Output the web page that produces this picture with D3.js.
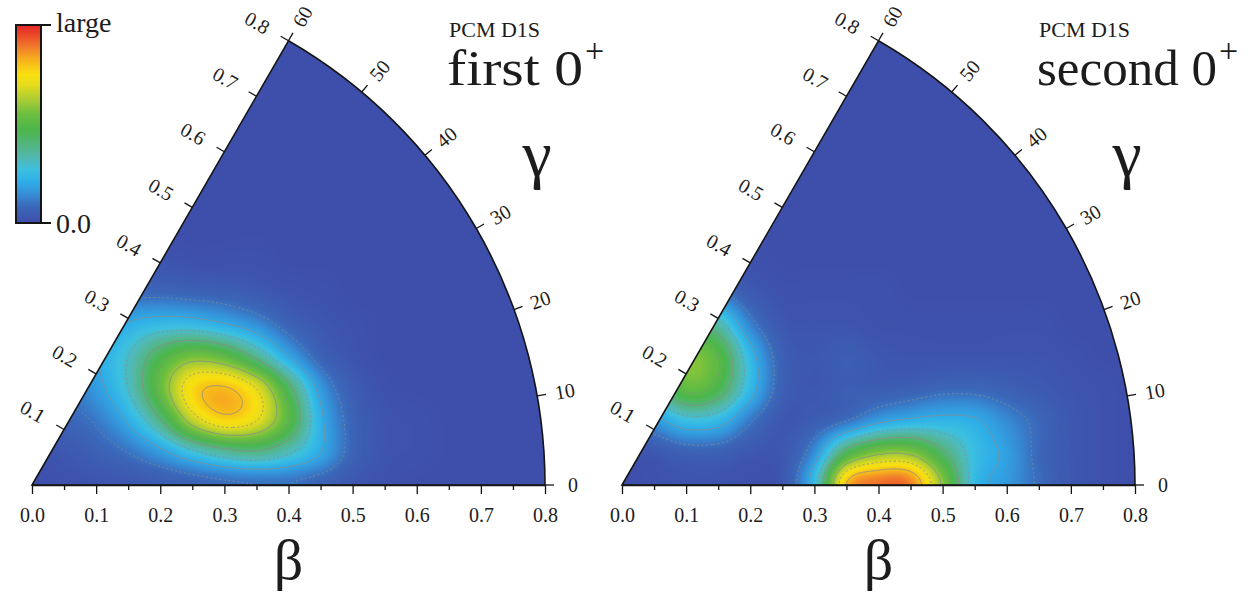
<!DOCTYPE html>
<html>
<head>
<meta charset="utf-8">
<script src="https://cdn.jsdelivr.net/npm/d3@7"></script>
<style>
  html, body { margin: 0; padding: 0; background: #ffffff; }
  svg { display: block; }
  svg text { font-family: "Liberation Serif", "DejaVu Serif", serif !important; fill: #1c1c1c; }
</style>
</head>
<body>
<svg id="chart" width="1253" height="594"></svg>
<script>
// ---- Data -------------------------------------------------------------
// Sampling nodes of the (x, y) = (beta cos gamma, beta sin gamma) plane.
const gridX = [0, 0.05, 0.10, 0.15, 0.20, 0.25, 0.30, 0.35, 0.40, 0.45, 0.50, 0.55, 0.60, 0.65, 0.70, 0.75, 0.80];
const gridY = [0, 0.05, 0.10, 0.15, 0.20, 0.25, 0.30, 0.35, 0.40];

// Collective wave-function density (fraction of the colour-scale maximum),
// one row per gridY value, one column per gridX value.
const densityFirst = [
  [0.00, 0.01, 0.02, 0.03, 0.05, 0.07, 0.09, 0.10, 0.10, 0.07, 0.03, 0.01, 0, 0, 0, 0, 0],
  [0.01, 0.03, 0.06, 0.10, 0.17, 0.27, 0.35, 0.38, 0.31, 0.20, 0.07, 0.02, 0.01, 0, 0, 0, 0],
  [0.04, 0.07, 0.11, 0.21, 0.39, 0.64, 0.76, 0.70, 0.50, 0.22, 0.07, 0.02, 0.01, 0, 0, 0, 0],
  [0.06, 0.10, 0.17, 0.30, 0.53, 0.76, 0.81, 0.70, 0.44, 0.17, 0.05, 0.01, 0, 0, 0, 0, 0],
  [0.06, 0.11, 0.19, 0.30, 0.46, 0.56, 0.52, 0.38, 0.20, 0.07, 0.02, 0, 0, 0, 0, 0, 0],
  [0.05, 0.09, 0.15, 0.21, 0.25, 0.25, 0.21, 0.15, 0.07, 0.03, 0.01, 0, 0, 0, 0, 0, 0],
  [0.02, 0.04, 0.06, 0.08, 0.08, 0.07, 0.06, 0.04, 0.02, 0.01, 0, 0, 0, 0, 0, 0, 0],
  [0.01, 0.01, 0.02, 0.02, 0.02, 0.01, 0.01, 0.01, 0, 0, 0, 0, 0, 0, 0, 0, 0],
  [0, 0, 0, 0, 0, 0, 0, 0, 0, 0, 0, 0, 0, 0, 0, 0, 0]
];

const densitySecond = [
  [0, 0.01, 0.02, 0.02, 0.01, 0.03, 0.26, 0.80, 0.90, 0.88, 0.58, 0.25, 0.17, 0.09, 0.03, 0.01, 0],
  [0.01, 0.03, 0.06, 0.06, 0.03, 0.03, 0.15, 0.45, 0.58, 0.58, 0.42, 0.26, 0.18, 0.08, 0.03, 0.01, 0],
  [0.07, 0.16, 0.26, 0.24, 0.11, 0.03, 0.05, 0.10, 0.18, 0.22, 0.23, 0.21, 0.14, 0.08, 0.03, 0.01, 0],
  [0.10, 0.32, 0.52, 0.46, 0.24, 0.06, 0.03, 0.05, 0.05, 0.06, 0.08, 0.08, 0.06, 0.04, 0.02, 0.01, 0],
  [0.10, 0.35, 0.56, 0.50, 0.24, 0.06, 0.03, 0.05, 0.03, 0.02, 0.02, 0.02, 0.02, 0.02, 0.01, 0, 0],
  [0.07, 0.24, 0.40, 0.34, 0.13, 0.03, 0.02, 0.02, 0.01, 0.01, 0.01, 0.01, 0.01, 0.01, 0, 0, 0],
  [0.03, 0.08, 0.13, 0.11, 0.04, 0.01, 0.01, 0.01, 0.01, 0, 0, 0, 0, 0, 0, 0, 0],
  [0.01, 0.02, 0.03, 0.02, 0.01, 0, 0, 0, 0, 0, 0, 0, 0, 0, 0, 0, 0],
  [0, 0, 0, 0, 0, 0, 0, 0, 0, 0, 0, 0, 0, 0, 0, 0, 0]
];

// Colour scale (0 -> "large")
const colorStops = [0, 0.08, 0.15, 0.21, 0.27, 0.33, 0.40, 0.47, 0.55, 0.62, 0.70, 0.75, 0.82, 0.88, 0.94, 1.00];
const colorHex = ["#3e4fab", "#3b66b8", "#3590d8", "#2eaee8", "#3cc0e0", "#52b8b0", "#52b57c", "#4cb64a",
                  "#6cbe40", "#a8cc34", "#e8dc1c", "#f8e010", "#f7b41c", "#f2822a", "#ec5028", "#e3232a"];
const contourLevels = [0.1, 0.2, 0.3, 0.4, 0.5, 0.6, 0.7, 0.8];

// Axis ticks
const betaTicks = [0, 0.1, 0.2, 0.3, 0.4, 0.5, 0.6, 0.7, 0.8];
const betaMinorTicks = [0.05, 0.15, 0.25, 0.35, 0.45, 0.55, 0.65, 0.75];
const edgeTicks = [0.1, 0.2, 0.3, 0.4, 0.5, 0.6, 0.7, 0.8];
const gammaTicks = [0, 10, 20, 30, 40, 50, 60];

const panels = [
  { ox: 32,  oy: 485, grid: densityFirst,  name: "first 0",  nameWidth: 136, colorbar: true },
  { ox: 622, oy: 485, grid: densitySecond, name: "second 0", nameWidth: 180, colorbar: false }
];

// ---- Setup ------------------------------------------------------------
const FONT = "Liberation Serif";
const R = 513;                          // pixel radius of beta = 0.8
const svg = d3.select("#chart");
const defs = svg.append("defs");
const rScale = d3.scaleLinear().domain([0, 0.8]).range([0, R]);
const gammaRad = d3.scaleLinear().domain([0, 60]).range([0, Math.PI / 3]);
const color = d3.scaleLinear().domain(colorStops).range(colorHex)
  .interpolate(d3.interpolateRgb).clamp(true);

// colour lookup table
const LUT = d3.range(1024).map(i => d3.rgb(color(i / 1023)));

const stepX = gridX[1] - gridX[0];
const stepY = gridY[1] - gridY[0];

// Catmull-Rom interpolation between grid nodes (mirror symmetric at the edges)
function cr(p0, p1, p2, p3, t) {
  return p1 + 0.5 * t * (p2 - p0 + t * (2 * p0 - 5 * p1 + 4 * p2 - p3 + t * (3 * (p1 - p2) + p3 - p0)));
}
function node(grid, r, c) {
  if (r < 0) r = -r;
  if (c < 0) c = -c;
  if (r >= gridY.length || c >= gridX.length) return 0;
  return grid[r][c];
}
function sampleAt(grid, x, y) {
  const fx = x / stepX, fy = Math.abs(y) / stepY;
  const i = Math.floor(fx), j = Math.floor(fy);
  const tx = fx - i, ty = fy - j;
  const rows = [];
  for (let m = -1; m <= 2; m++) {
    rows.push(cr(node(grid, j + m, i - 1), node(grid, j + m, i), node(grid, j + m, i + 1), node(grid, j + m, i + 2), tx));
  }
  const v = cr(rows[0], rows[1], rows[2], rows[3], ty);
  return Math.max(0, Math.min(1, v));
}

const wedgeArc = d3.arc().innerRadius(0).outerRadius(R)
  .startAngle(Math.PI / 6).endAngle(Math.PI / 2);

function label(sel) {
  return sel.attr("font-family", FONT).attr("fill", "#1c1c1c");
}

panels.forEach((p, idx) => {
  const g = svg.append("g").attr("class", "panel");
  const clipId = "wedge" + idx;
  defs.append("clipPath").attr("id", clipId)
    .append("path").attr("d", wedgeArc()).attr("transform", `translate(${p.ox},${p.oy})`);

  // ---- density field sampled on the pixel grid ----
  const left = p.ox - 2, top = Math.floor(p.oy - R * Math.sin(Math.PI / 3)) - 3;
  const w = R + 5, h = p.oy - top + 3;
  const values = new Float64Array(w * h);
  const canvas = document.createElement("canvas");
  canvas.width = w; canvas.height = h;
  const ctx = canvas.getContext("2d");
  const img = ctx.createImageData(w, h);
  for (let j = 0; j < h; j++) {
    const y = rScale.invert(p.oy - (top + j + 0.5));
    for (let i = 0; i < w; i++) {
      const x = rScale.invert(left + i + 0.5 - p.ox);
      const v = x < 0 ? 0 : sampleAt(p.grid, x, y);
      values[j * w + i] = v;
      const c = LUT[Math.round(v * 1023)];
      const k = 4 * (j * w + i);
      img.data[k] = c.r; img.data[k + 1] = c.g; img.data[k + 2] = c.b; img.data[k + 3] = 255;
    }
  }
  ctx.putImageData(img, 0, 0);

  const plot = g.append("g").attr("clip-path", `url(#${clipId})`);
  plot.append("image")
    .attr("x", left).attr("y", top).attr("width", w).attr("height", h)
    .attr("preserveAspectRatio", "none")
    .attr("href", canvas.toDataURL());

  // ---- contour lines ----
  const contours = d3.contours().size([w, h]).thresholds(contourLevels)(Array.from(values));
  plot.append("g").attr("transform", `translate(${left},${top})`)
    .selectAll("path").data(contours).join("path")
    .attr("d", d3.geoPath())
    .attr("fill", "none")
    .attr("stroke", "#8c8c8c")
    .attr("stroke-opacity", 0.85)
    .attr("stroke-width", 1)
    .attr("stroke-dasharray", (d, k) => (k % 2 === 0 ? "2,2.5" : null));

  // ---- wedge outline ----
  g.append("path").attr("d", wedgeArc()).attr("transform", `translate(${p.ox},${p.oy})`)
    .attr("fill", "none").attr("stroke", "#151515").attr("stroke-width", 1.6)
    .attr("stroke-linejoin", "miter");

  // ---- beta axis (bottom) ----
  const xAxis = d3.scaleLinear().domain([0, 0.8]).range([p.ox, p.ox + R]);
  const ax = g.append("g").attr("transform", `translate(0,${p.oy})`)
    .call(d3.axisBottom(xAxis).tickValues(betaTicks).tickFormat(d3.format(".1f"))
      .tickSize(9).tickPadding(14).tickSizeOuter(0));
  ax.attr("font-family", FONT);
  ax.select(".domain").attr("stroke", "#151515").attr("stroke-width", 1.6);
  ax.selectAll(".tick line").attr("stroke", "#151515").attr("stroke-width", 1.3);
  label(ax.selectAll(".tick text")).attr("font-size", 20);
  const axm = g.append("g").attr("transform", `translate(0,${p.oy})`)
    .call(d3.axisBottom(xAxis).tickValues(betaMinorTicks).tickFormat("").tickSize(5).tickSizeOuter(0));
  axm.select(".domain").remove();
  axm.selectAll(".tick line").attr("stroke", "#151515").attr("stroke-width", 1.3);

  label(g.append("text")).attr("x", p.ox + rScale(0.4)).attr("y", 579)
    .attr("text-anchor", "middle").attr("font-size", 58).text("β");

  // ---- beta ticks along the gamma = 60 edge ----
  const s60 = Math.sin(Math.PI / 3), c60 = Math.cos(Math.PI / 3);
  const nx = -s60, ny = -c60;          // outward normal of the edge
  edgeTicks.forEach(b => {
    const px = p.ox + rScale(b) * c60, py = p.oy - rScale(b) * s60;
    g.append("line").attr("x1", px).attr("y1", py).attr("x2", px + 9 * nx).attr("y2", py + 9 * ny)
      .attr("stroke", "#151515").attr("stroke-width", 1.3);
    const lx = px + 36 * nx, ly = py + 36 * ny;
    label(g.append("text")).attr("transform", `translate(${lx},${ly}) rotate(30)`)
      .attr("text-anchor", "middle").attr("dominant-baseline", "central")
      .attr("font-size", 20).text(d3.format(".1f")(b));
  });

  // ---- gamma ticks along the arc ----
  gammaTicks.forEach(gm => {
    const a = gammaRad(gm);
    const dx = Math.cos(a), dy = -Math.sin(a);
    g.append("line")
      .attr("x1", p.ox + R * dx).attr("y1", p.oy + R * dy)
      .attr("x2", p.ox + (R + 9) * dx).attr("y2", p.oy + (R + 9) * dy)
      .attr("stroke", "#151515").attr("stroke-width", 1.3);
    const lr = R + 28;
    label(g.append("text"))
      .attr("transform", `translate(${p.ox + lr * dx},${p.oy + lr * dy}) rotate(${-gm})`)
      .attr("text-anchor", "middle").attr("dominant-baseline", "central")
      .attr("font-size", 20).text(gm);
  });

  label(g.append("text")).attr("x", p.ox + 505).attr("y", 176)
    .attr("text-anchor", "middle").attr("font-size", 66).text("γ");

  // ---- panel titles ----
  label(g.append("text")).attr("x", p.ox + 417).attr("y", 37).attr("font-size", 22).text("PCM D1S");
  label(g.append("text")).attr("x", p.ox + 415).attr("y", 85).attr("font-size", 50)
    .attr("textLength", p.nameWidth).attr("lengthAdjust", "spacingAndGlyphs").text(p.name);
  label(g.append("text")).attr("x", p.ox + 415 + p.nameWidth + 2).attr("y", 62)
    .attr("font-size", 34).text("+");

  // ---- colour bar ----
  if (p.colorbar) {
    const grad = defs.append("linearGradient").attr("id", "cbar")
      .attr("x1", 0).attr("y1", 1).attr("x2", 0).attr("y2", 0);
    grad.selectAll("stop").data(colorStops).join("stop")
      .attr("offset", d => d).attr("stop-color", (d, k) => colorHex[k]);
    const cbScale = d3.scaleLinear().domain([0, 1]).range([223, 25]);
    g.append("rect").attr("x", 16).attr("y", cbScale(1)).attr("width", 25)
      .attr("height", cbScale(0) - cbScale(1))
      .attr("fill", "url(#cbar)").attr("stroke", "#151515").attr("stroke-width", 2);
    [0, 1].forEach(v => {
      g.append("line").attr("x1", 41).attr("x2", 51).attr("y1", cbScale(v)).attr("y2", cbScale(v))
        .attr("stroke", "#151515").attr("stroke-width", 2);
    });
    label(g.append("text")).attr("x", 56).attr("y", cbScale(1)).attr("dy", "0.25em")
      .attr("font-size", 28).text("large");
    label(g.append("text")).attr("x", 56).attr("y", cbScale(0)).attr("dy", "0.35em")
      .attr("font-size", 28).text("0.0");
  }
});
</script>
</body>
</html>
